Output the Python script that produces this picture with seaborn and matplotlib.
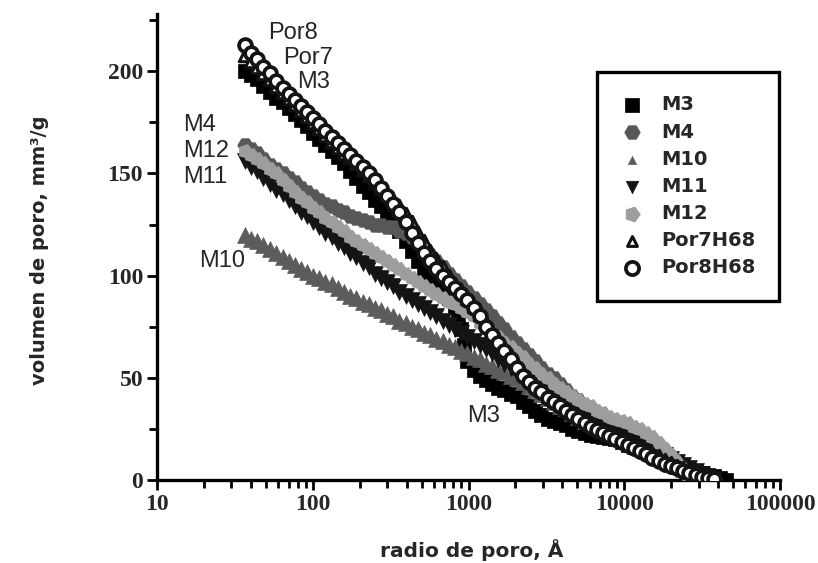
import numpy as np
import pandas as pd
import matplotlib
matplotlib.use("Agg")
import matplotlib.pyplot as plt
import seaborn as sns

# ---------------- data ----------------
# pore radius (Angstrom) at which the volumes were read
radius = [37, 40, 44, 48, 53, 58, 64, 70, 77, 84, 92, 101, 110, 120, 132, 145,
          159, 174, 190, 209, 229, 250, 274, 300, 329, 360, 395, 433, 474, 519,
          569, 623, 683, 748, 820, 898, 984, 1078, 1180, 1293, 1416, 1551, 1700,
          1862, 2040, 2235, 2448, 2681, 2937, 3218, 3525, 3862, 4230, 4634, 5076,
          5560, 6091, 6672, 7309, 8007, 8771, 9608, 10525, 11530, 12630, 13836,
          15156, 16603, 18187, 19923, 21825, 23908, 26190, 28690, 31428, 34428,
          37714, 41200, 45000]

m3_r = radius[:35] + [860] + radius[35:36] + [940] + radius[36:]
m3_v = [200, 198, 196, 193, 190, 187, 185, 182, 179, 176, 173, 170, 167, 164, 161, 158,
        155, 151, 148, 144, 141, 137, 134, 130, 126, 122, 117, 112, 107, 102,
        98, 95, 93, 89, 85, 80, 74, 66, 58, 54, 51, 49, 47, 45, 44,
        42, 41, 38, 36, 34, 32, 30, 29, 28, 27, 25, 24,
        23, 22, 21.5, 21, 20.5, 20, 18.5, 17, 16, 15, 13.5,
        12, 11, 10, 9, 8, 6.5, 5, 4, 3.5, 2.5,
        1.8, 1, 0]

m4_r = radius[:77]
m4_v = [164, 162, 160, 157, 154, 152, 150, 148, 146, 143, 141, 139, 137, 135, 134, 132,
        131, 129, 128, 127, 126, 125, 125, 124, 124, 122, 121, 119, 116, 113,
        110, 107, 104, 101, 98, 95, 92, 89, 86, 83, 80, 77, 74,
        70, 67, 64, 61, 58, 55, 52, 50, 47, 44, 41, 39,
        36, 34, 32, 30, 28, 26, 24, 22, 20, 18, 16,
        14, 12.5, 11, 9, 7, 5.5, 4, 3, 2, 1,
        0.5]

m10_r = radius[:75]
m10_v = [120, 118, 117, 115, 113, 111, 109, 107, 105, 103, 102, 100, 99, 97, 96, 94,
         92, 90, 89, 87, 86, 84, 83, 81, 80, 78, 77, 75, 74, 72,
         71, 69, 68, 66, 65, 63, 62, 60, 59, 57, 56, 54, 53,
         51, 50, 48, 46, 44, 42, 40, 38, 36, 35, 33, 31,
         29, 28, 26, 25, 23, 22, 20, 19, 17, 16, 14,
         13, 11, 10, 8, 7, 5.5, 4, 2.5, 1.5]

m11_r = radius[:77]
m11_v = [156, 153, 151, 148, 145, 142, 140, 137, 134, 131, 129, 126, 124, 121, 119, 116,
         114, 111, 109, 106, 104, 101, 99, 97, 95, 92, 90, 88, 86, 84,
         82, 80, 78, 76, 74, 72, 70, 68, 66, 64, 62, 59, 57,
         55, 53, 50, 48, 46, 44, 42, 40, 38, 36, 34.5, 33,
         31.5, 30, 28.5, 27, 26, 25, 23.5, 22, 20.5, 19, 17.5,
         16, 14, 12, 10.5, 9, 7.5, 6, 4.5, 3, 1.5,
         0.5]

m12_r = radius[:73]
m12_v = [161, 159, 157, 155, 152, 150, 147, 144, 141, 138, 136, 133, 131, 128, 126, 124,
         122, 119, 117, 115, 113, 111, 109, 107, 105, 103, 101, 99, 97, 95,
         93, 91, 89, 87, 86, 84, 82, 80, 77, 75, 72, 70, 67,
         65, 62, 60, 57, 55, 52, 50, 47, 45, 43, 41, 39,
         37, 36, 34, 33, 31, 30, 29, 28, 26, 25, 23,
         21, 18, 15, 12, 9, 5.5, 2]

por7_r = radius[:77]
por7_v = [208, 205, 202, 199, 196, 193, 190, 187, 184, 181, 178, 175, 172, 169, 166, 163,
          160, 158, 155, 152, 149, 146, 143, 140, 137, 134, 130, 126, 121, 117,
          112, 108, 104, 100, 96, 93, 89, 85, 81, 77, 73, 69, 65,
          61, 57, 53, 50, 47, 44, 41, 39, 37, 35, 33.5, 32,
          30, 28, 26.5, 25, 23.5, 22, 20.5, 19, 17.5, 16, 14.5,
          13, 11.5, 10, 8.5, 7, 6, 5, 3.5, 2.5, 1.5,
          0.5]

por8_r = radius[:77]
por8_v = [213, 209, 206, 202, 199, 195, 192, 189, 186, 183, 180, 177, 174, 171, 168, 165,
          162, 159, 156, 153, 150, 147, 143, 139, 135, 131, 126, 121, 116, 111,
          107, 103, 100, 97, 94, 91, 88, 84, 80, 75, 71, 67, 63,
          59, 55, 51, 48, 45, 43, 40, 38, 36, 34, 32, 30,
          28, 26, 24.5, 23, 21.5, 20, 18.5, 17, 15.5, 14, 12.5,
          11, 9.5, 8, 7, 6, 4.5, 3.5, 2.5, 1.5, 0.8,
          0.3]

series_names = ["M3", "M4", "M10", "M11", "M12", "Por7H68", "Por8H68"]
series_r = [m3_r, m4_r, m10_r, m11_r, m12_r, por7_r, por8_r]
series_v = [m3_v, m4_v, m10_v, m11_v, m12_v, por7_v, por8_v]

x_ticks = [10, 100, 1000, 10000, 100000]
y_ticks = [0, 50, 100, 150, 200]

# ---------------- style ----------------
sns.set_style("ticks")
plt.rcParams["font.family"] = ["DejaVu Sans"]

styles = {
    "M3":      dict(marker="s", color="#000000", edgecolor="#000000", s=90, lw=0.5, ls=100),
    "M4":      dict(marker="H", color="#575757", edgecolor="#575757", s=125, lw=0.5, ls=125),
    "M10":     dict(marker="^", color="#5c5c5c", edgecolor="#5c5c5c", s=130, lw=0.5, ls=35),
    "M11":     dict(marker="v", color="#141414", edgecolor="#141414", s=130, lw=0.5, ls=80),
    "M12":     dict(marker=(5, 0, -90), color="#9d9d9d", edgecolor="#9d9d9d", s=115, lw=0.5, ls=130),
    "Por7H68": dict(marker="^", color="white", edgecolor="#111111", s=80, lw=2.2, ls=50),
    "Por8H68": dict(marker="o", color="white", edgecolor="#141414", s=85, lw=2.7, ls=90),
}

fig = plt.figure(figsize=(8.18, 5.63), dpi=100)
ax = fig.add_axes([157 / 818, 83 / 563, (780 - 157) / 818, (480 - 14) / 563])

for name, r, v in zip(series_names, series_r, series_v):
    df = pd.DataFrame({"radio": r, "volumen": v})
    st = styles[name]
    sns.scatterplot(data=df, x="radio", y="volumen", ax=ax, marker=st["marker"],
                    color=st["color"], edgecolor=st["edgecolor"], s=st["s"],
                    linewidth=st["lw"], label=name, zorder=3)

ax.set_xscale("log")
ax.set_xlim(10, 100000)
ax.set_ylim(0, 228)
ax.set_xticks(x_ticks)
ax.set_xticklabels([str(t) for t in x_ticks])
ax.set_yticks(y_ticks)
ax.set_yticks([25, 75, 125, 175, 225], minor=True)
ax.set_yticklabels([str(t) for t in y_ticks])

for sp in ["top", "right"]:
    ax.spines[sp].set_visible(False)
for sp in ["left", "bottom"]:
    ax.spines[sp].set_linewidth(2.4)
    ax.spines[sp].set_color("black")

ax.tick_params(axis="both", which="major", length=7, width=2, direction="out",
               color="black")
ax.tick_params(axis="both", which="minor", length=6, width=2, direction="out",
               color="black")
ax.tick_params(axis="x", which="minor", labelbottom=False)
for lab in ax.get_xticklabels() + ax.get_yticklabels():
    lab.set_fontfamily("Liberation Serif")
    lab.set_fontweight("bold")
    lab.set_fontsize(17)
ax.tick_params(axis="x", pad=3)
ax.tick_params(axis="y", pad=3)

ax.set_xlabel("")
ax.set_ylabel("")
fig.text(472 / 818, 1 - 550 / 563, "radio de poro, Å", ha="center", va="center",
         fontsize=14.5, fontweight="bold", family="DejaVu Sans")
fig.text(40 / 818, 1 - 250 / 563, "volumen de poro, mm³/g", ha="center", va="center",
         rotation=90, fontsize=14, fontweight="bold", family="DejaVu Sans")

# annotations
ann = [("Por8", 268, 33), ("Por7", 283, 58), ("M3", 297, 82),
       ("M4", 183, 125), ("M12", 183, 151), ("M11", 183, 177),
       ("M10", 199, 261), ("M3", 467, 416)]
for t, px, py in ann:
    fig.text(px / 818, 1 - py / 563, t, ha="left", va="center", fontsize=17,
             family="Liberation Sans")

leg = ax.legend(loc="upper left", bbox_to_anchor=(597 / 818, 1 - 72 / 563),
                bbox_transform=fig.transFigure, frameon=True, fancybox=False,
                edgecolor="black", prop={"family": "DejaVu Sans", "weight": "bold",
                                          "size": 14},
                borderpad=1.2, labelspacing=0.42, handletextpad=0.9,
                handlelength=1.2, borderaxespad=0)
leg.get_frame().set_linewidth(2.4)
leg.get_frame().set_facecolor("white")
leg.get_frame().set_alpha(1)
for h, name in zip(leg.legend_handles, series_names):
    h.set_sizes([styles[name]["ls"]])

fig.savefig("out.png", dpi=100)
